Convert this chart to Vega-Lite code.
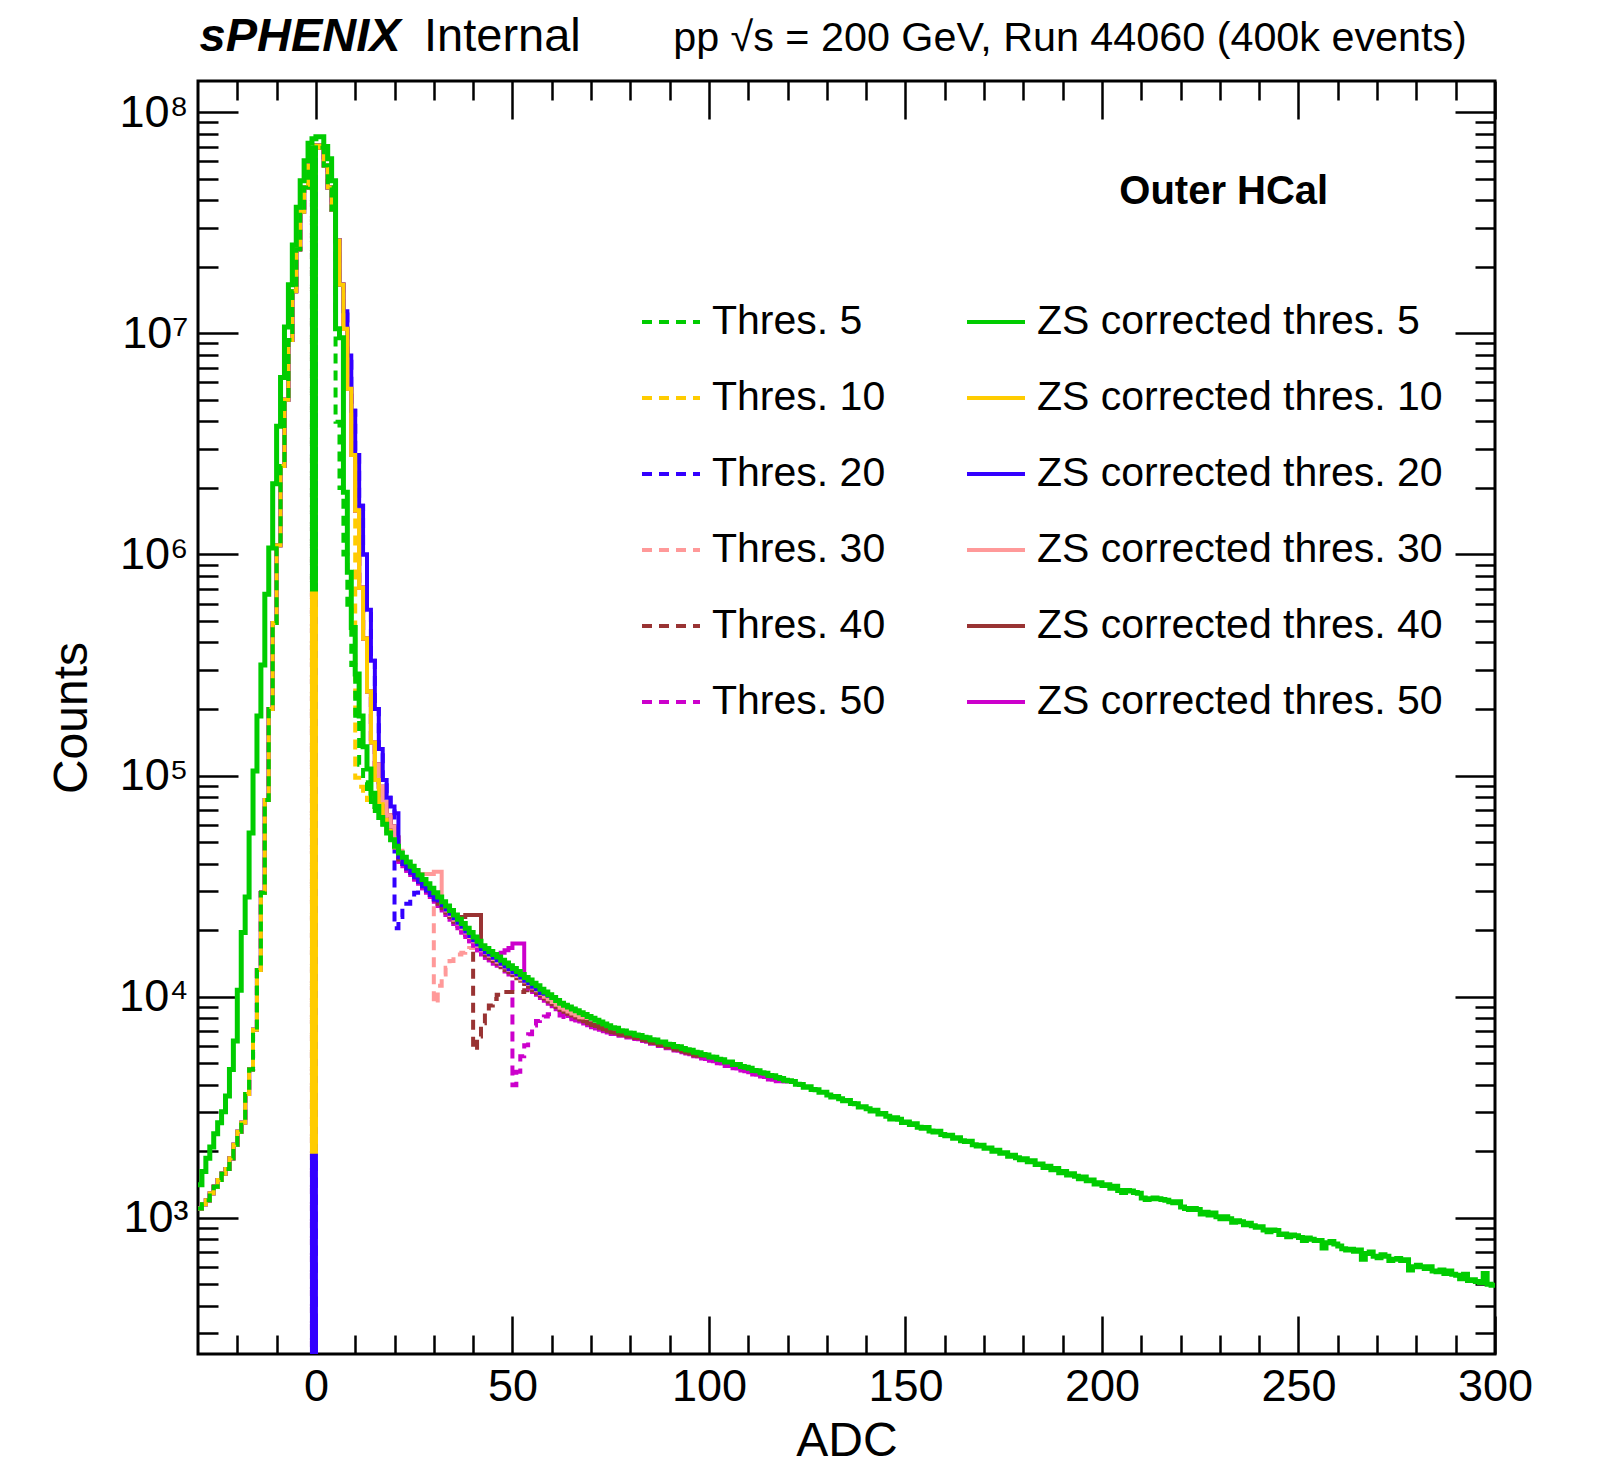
{
"$schema": "https://vega.github.io/schema/vega-lite/v6.json",
"width": 1297, "height": 1273,
"autosize": {"type": "none"},
"padding": {"left": 198, "top": 81, "right": 102, "bottom": 115},
"background": "white",
"config": {"view": {"stroke": "black", "strokeWidth": 3}, "font": "Liberation Sans"},
"resolve": {"axis": {"x": "independent", "y": "independent"}},
"datasets": {
"bar": [{"x":-0.5,"hi":7.08e7,"lo":6.8e5,"key":"d5"},{"x":-0.5,"hi":6.8e5,"lo":1950,"key":"d10"},{"x":-0.5,"hi":1950,"lo":1,"key":"d20"}],
"hist": [
{"x":-30,"s5":1410,"d5":1100,"d10":1100,"d20":1100,"d30":1100,"d40":1100,"d50":1100,"s10":1100,"s20":1100,"s30":1100,"s40":1100,"s50":1100},
{"x":-29,"s5":1620,"d5":1150,"d10":1150,"d20":1150,"d30":1150,"d40":1150,"d50":1150,"s10":1150,"s20":1150,"s30":1150,"s40":1150,"s50":1150},
{"x":-28,"s5":1860,"d5":1200,"d10":1200,"d20":1200,"d30":1200,"d40":1200,"d50":1200,"s10":1200,"s20":1200,"s30":1200,"s40":1200,"s50":1200},
{"x":-27,"s5":2090,"d5":1290,"d10":1290,"d20":1290,"d30":1290,"d40":1290,"d50":1290,"s10":1290,"s20":1290,"s30":1290,"s40":1290,"s50":1290},
{"x":-26,"s5":2400,"d5":1380,"d10":1380,"d20":1380,"d30":1380,"d40":1380,"d50":1380,"s10":1380,"s20":1380,"s30":1380,"s40":1380,"s50":1380},
{"x":-25,"s5":2690,"d5":1480,"d10":1480,"d20":1480,"d30":1480,"d40":1480,"d50":1480,"s10":1480,"s20":1480,"s30":1480,"s40":1480,"s50":1480},
{"x":-24,"s5":3020,"d5":1580,"d10":1580,"d20":1580,"d30":1580,"d40":1580,"d50":1580,"s10":1580,"s20":1580,"s30":1580,"s40":1580,"s50":1580},
{"x":-23,"s5":3550,"d5":1660,"d10":1660,"d20":1660,"d30":1660,"d40":1660,"d50":1660,"s10":1660,"s20":1660,"s30":1660,"s40":1660,"s50":1660},
{"x":-22,"s5":4680,"d5":1860,"d10":1860,"d20":1860,"d30":1860,"d40":1860,"d50":1860,"s10":1860,"s20":1860,"s30":1860,"s40":1860,"s50":1860},
{"x":-21,"s5":6310,"d5":2140,"d10":2140,"d20":2140,"d30":2140,"d40":2140,"d50":2140,"s10":2140,"s20":2140,"s30":2140,"s40":2140,"s50":2140},
{"x":-20,"s5":10700,"d5":2450,"d10":2450,"d20":2450,"d30":2450,"d40":2450,"d50":2450,"s10":2450,"s20":2450,"s30":2450,"s40":2450,"s50":2450},
{"x":-19,"s5":19500,"d5":2690,"d10":2690,"d20":2690,"d30":2690,"d40":2690,"d50":2690,"s10":2690,"s20":2690,"s30":2690,"s40":2690,"s50":2690},
{"x":-18,"s5":28200,"d5":3630,"d10":3630,"d20":3630,"d30":3630,"d40":3630,"d50":3630,"s10":3630,"s20":3630,"s30":3630,"s40":3630,"s50":3630},
{"x":-17,"s5":55000,"d5":4680,"d10":4680,"d20":4680,"d30":4680,"d40":4680,"d50":4680,"s10":4680,"s20":4680,"s30":4680,"s40":4680,"s50":4680},
{"x":-16,"s5":105000,"d5":7080,"d10":7080,"d20":7080,"d30":7080,"d40":7080,"d50":7080,"s10":7080,"s20":7080,"s30":7080,"s40":7080,"s50":7080},
{"x":-15,"s5":186000,"d5":13200,"d10":13200,"d20":13200,"d30":13200,"d40":13200,"d50":13200,"s10":13200,"s20":13200,"s30":13200,"s40":13200,"s50":13200},
{"x":-14,"s5":316000,"d5":29500,"d10":29500,"d20":29500,"d30":29500,"d40":29500,"d50":29500,"s10":29500,"s20":29500,"s30":29500,"s40":29500,"s50":29500},
{"x":-13,"s5":661000,"d5":77600,"d10":77600,"d20":77600,"d30":77600,"d40":77600,"d50":77600,"s10":77600,"s20":77600,"s30":77600,"s40":77600,"s50":77600},
{"x":-12,"s5":1.07e6,"d5":2.0e5,"d10":2.0e5,"d20":2.0e5,"d30":2.0e5,"d40":2.0e5,"d50":2.0e5,"s10":2.0e5,"s20":2.0e5,"s30":2.0e5,"s40":2.0e5,"s50":2.0e5},
{"x":-11,"s5":2.09e6,"d5":4.9e5,"d10":4.9e5,"d20":4.9e5,"d30":4.9e5,"d40":4.9e5,"d50":4.9e5,"s10":4.9e5,"s20":4.9e5,"s30":4.9e5,"s40":4.9e5,"s50":4.9e5},
{"x":-10,"s5":3.8e6,"d5":1.1e6,"d10":1.1e6,"d20":1.1e6,"d30":1.1e6,"d40":1.1e6,"d50":1.1e6,"s10":1.1e6,"s20":1.1e6,"s30":1.1e6,"s40":1.1e6,"s50":1.1e6},
{"x":-9,"s5":6.31e6,"d5":2.51e6,"d10":2.51e6,"d20":2.51e6,"d30":2.51e6,"d40":2.51e6,"d50":2.51e6,"s10":2.51e6,"s20":2.51e6,"s30":2.51e6,"s40":2.51e6,"s50":2.51e6},
{"x":-8,"s5":1.07e7,"d5":5.01e6,"d10":5.01e6,"d20":5.01e6,"d30":5.01e6,"d40":5.01e6,"d50":5.01e6,"s10":5.01e6,"s20":5.01e6,"s30":5.01e6,"s40":5.01e6,"s50":5.01e6},
{"x":-7,"s5":1.66e7,"d5":9.33e6,"d10":9.33e6,"d20":9.33e6,"d30":9.33e6,"d40":9.33e6,"d50":9.33e6,"s10":9.33e6,"s20":9.33e6,"s30":9.33e6,"s40":9.33e6,"s50":9.33e6},
{"x":-6,"s5":2.51e7,"d5":1.55e7,"d10":1.55e7,"d20":1.55e7,"d30":1.55e7,"d40":1.55e7,"d50":1.55e7,"s10":1.55e7,"s20":1.55e7,"s30":1.55e7,"s40":1.55e7,"s50":1.55e7},
{"x":-5,"s5":3.72e7,"d5":2.4e7,"d10":2.4e7,"d20":2.4e7,"d30":2.4e7,"d40":2.4e7,"d50":2.4e7,"s10":2.4e7,"s20":2.4e7,"s30":2.4e7,"s40":2.4e7,"s50":2.4e7},
{"x":-4,"s5":4.9e7,"d5":3.55e7,"d10":3.55e7,"d20":3.55e7,"d30":3.55e7,"d40":3.55e7,"d50":3.55e7,"s10":3.55e7,"s20":3.55e7,"s30":3.55e7,"s40":3.55e7,"s50":3.55e7},
{"x":-3,"s5":6.03e7,"d5":4.57e7,"d10":4.57e7,"d20":4.57e7,"d30":4.57e7,"d40":4.57e7,"d50":4.57e7,"s10":4.57e7,"s20":4.57e7,"s30":4.57e7,"s40":4.57e7,"s50":4.57e7},
{"x":-2,"s5":7.24e7,"d5":5.75e7,"d10":5.75e7,"d20":5.75e7,"d30":5.75e7,"d40":5.75e7,"d50":5.75e7,"s10":5.75e7,"s20":5.75e7,"s30":5.75e7,"s40":5.75e7,"s50":5.75e7},
{"x":-1,"s5":7.59e7,"d5":6.8e5,"d10":1950,"d20":1,"d30":1,"d40":1,"d50":1,"s10":6.6e7,"s20":6.6e7,"s30":6.6e7,"s40":6.6e7,"s50":6.6e7},
{"x":0,"s5":7.76e7,"d5":7.08e7,"d10":7.08e7,"d20":7.08e7,"d30":7.08e7,"d40":7.08e7,"d50":7.08e7,"s10":7.08e7,"s20":7.08e7,"s30":7.08e7,"s40":7.08e7,"s50":7.08e7},
{"x":1,"s5":7.76e7,"d5":6.92e7,"d10":6.92e7,"d20":6.92e7,"d30":6.92e7,"d40":6.92e7,"d50":6.92e7,"s10":6.92e7,"s20":6.92e7,"s30":6.92e7,"s40":6.92e7,"s50":6.92e7},
{"x":2,"s5":7.0e7,"d5":5.75e7,"d10":5.75e7,"d20":5.75e7,"d30":5.75e7,"d40":5.75e7,"d50":5.75e7,"s10":5.75e7,"s20":5.75e7,"s30":5.75e7,"s40":5.75e7,"s50":5.75e7},
{"x":3,"s5":6.17e7,"d5":4.57e7,"d10":4.57e7,"d20":4.57e7,"d30":4.57e7,"d40":4.57e7,"d50":4.57e7,"s10":4.57e7,"s20":4.57e7,"s30":4.57e7,"s40":4.57e7,"s50":4.57e7},
{"x":4,"s5":4.9e7,"d5":3.63e7,"d10":3.63e7,"d20":3.63e7,"d30":3.63e7,"d40":3.63e7,"d50":3.63e7,"s10":3.63e7,"s20":3.63e7,"s30":3.63e7,"s40":3.63e7,"s50":3.63e7},
{"x":5,"s5":1.05e7,"d5":3.98e6,"d10":2.63e7,"d20":2.63e7,"d30":2.63e7,"d40":2.63e7,"d50":2.63e7,"s10":2.63e7,"s20":2.63e7,"s30":2.63e7,"s40":2.63e7,"s50":2.63e7},
{"x":6,"s5":9.55e6,"d5":2.0e6,"d10":1.66e7,"d20":1.66e7,"d30":1.66e7,"d40":1.66e7,"d50":1.66e7,"s10":1.66e7,"s20":1.66e7,"s30":1.66e7,"s40":1.66e7,"s50":1.66e7},
{"x":7,"s5":1.91e6,"d5":1.0e6,"d10":1.05e7,"d20":1.26e7,"d30":1.05e7,"d40":1.05e7,"d50":1.05e7,"s10":1.05e7,"s20":1.26e7,"s30":1.05e7,"s40":1.05e7,"s50":1.05e7},
{"x":8,"s5":8.32e5,"d5":5.62e5,"d10":5.62e6,"d20":7.94e6,"d30":5.62e6,"d40":5.62e6,"d50":5.62e6,"s10":5.62e6,"s20":7.94e6,"s30":5.62e6,"s40":5.62e6,"s50":5.62e6},
{"x":9,"s5":4.68e5,"d5":3.16e5,"d10":2.82e6,"d20":4.47e6,"d30":2.82e6,"d40":2.82e6,"d50":2.82e6,"s10":2.82e6,"s20":4.47e6,"s30":2.82e6,"s40":2.82e6,"s50":2.82e6},
{"x":10,"s5":2.88e5,"d5":1.78e5,"d10":9.77e4,"d20":2.82e6,"d30":1.58e6,"d40":1.58e6,"d50":1.58e6,"s10":1.58e6,"s20":2.82e6,"s30":1.58e6,"s40":1.58e6,"s50":1.58e6},
{"x":11,"s5":1.86e5,"d5":1.12e5,"d10":8.91e4,"d20":1.66e6,"d30":7.08e5,"d40":7.08e5,"d50":7.08e5,"s10":7.08e5,"s20":1.66e6,"s30":7.08e5,"s40":7.08e5,"s50":7.08e5},
{"x":12,"s5":1.35e5,"d5":9.33e4,"d10":8.32e4,"d20":1.0e6,"d30":4.17e5,"d40":4.17e5,"d50":4.17e5,"s10":4.17e5,"s20":1.0e6,"s30":4.17e5,"s40":4.17e5,"s50":4.17e5},
{"x":13,"s5":1.07e5,"d5":8.32e4,"d10":7.76e4,"d20":5.62e5,"d30":2.4e5,"d40":2.4e5,"d50":2.4e5,"s10":2.4e5,"s20":5.62e5,"s30":2.4e5,"s40":2.4e5,"s50":2.4e5},
{"x":14,"s5":8.32e4,"d5":7.59e4,"d10":7.24e4,"d20":3.31e5,"d30":1.41e5,"d40":1.41e5,"d50":1.41e5,"s10":1.41e5,"s20":3.31e5,"s30":1.41e5,"s40":1.41e5,"s50":1.41e5},
{"x":15,"s5":7.24e4,"d5":6.92e4,"d10":6.92e4,"d20":2.0e5,"d30":1.12e5,"d40":1.12e5,"d50":1.12e5,"s10":9.55e4,"s20":2.0e5,"s30":1.12e5,"s40":1.12e5,"s50":1.12e5},
{"x":16,"s5":6.46e4,"d5":6.46e4,"d10":6.61e4,"d20":1.32e5,"d30":8.91e4,"d40":8.91e4,"d50":8.91e4,"s10":7.41e4,"s20":1.32e5,"s30":8.91e4,"s40":8.91e4,"s50":8.91e4},
{"x":17,"s5":6.03e4,"d5":6.03e4,"d10":6.31e4,"d20":9.55e4,"d30":7.59e4,"d40":7.59e4,"d50":7.59e4,"s10":6.31e4,"s20":9.55e4,"s30":7.59e4,"s40":7.59e4,"s50":7.59e4},
{"x":18,"s5":5.5e4,"d5":5.5e4,"d10":5.75e4,"d20":7.94e4,"d30":6.61e4,"d40":6.61e4,"d50":6.61e4,"s10":5.62e4,"s20":7.94e4,"s30":6.61e4,"s40":6.61e4,"s50":6.61e4},
{"x":19,"s5":5.13e4,"d10":5.25e4,"d20":7.24e4,"d30":5.89e4,"d40":5.89e4,"d50":5.89e4,"s10":5.13e4,"s20":7.24e4,"s30":5.89e4,"s40":5.89e4,"s50":5.89e4},
{"x":20,"s5":4.79e4,"d10":4.79e4,"d20":2.04e4,"d30":5.25e4,"d40":5.25e4,"d50":5.25e4,"s10":4.73e4,"s20":6.76e4,"s30":5.25e4,"s40":5.25e4,"s50":5.25e4},
{"x":21,"s5":44700,"d10":44700,"d20":22900,"d30":45700,"d40":41700,"d50":40800,"s10":44700,"s20":42700,"s30":45700,"s40":41700,"s50":40800},
{"x":22,"s5":42700,"d20":25100,"d30":41700,"d40":39800,"d50":38900,"s20":39800,"s30":41700,"s40":39800,"s50":38900},
{"x":23,"s5":40700,"d20":26300,"d30":39800,"d40":38000,"d50":37100,"s20":38000,"s30":39800,"s40":38000,"s50":37100},
{"x":24,"s5":38900,"d20":28200,"d30":37600,"d40":36300,"d50":35500,"s20":36300,"s30":37600,"s40":36300,"s50":35500},
{"x":25,"s5":37200,"d20":29500,"d30":36300,"d40":34700,"d50":33900,"s20":34700,"s30":36300,"s40":34700,"s50":33900},
{"x":26,"s5":35500,"d20":30900,"d30":35100,"d40":33100,"d50":32400,"s20":33100,"s30":35100,"s40":33100,"s50":32400},
{"x":27,"s5":33900,"d20":31600,"d30":32400,"d40":31600,"d50":30900,"s20":31600,"s30":35900,"s40":31600,"s50":30900},
{"x":28,"s5":32400,"d30":30900,"d40":30200,"d50":29500,"s20":30200,"s30":35900,"s40":30200,"s50":29500},
{"x":29,"s5":30900,"d30":29500,"d40":28800,"d50":28200,"s20":28800,"s30":35900,"s40":28800,"s50":28200},
{"x":30,"s5":29500,"d30":9330,"d40":27500,"d50":26900,"s20":27500,"s30":36700,"s40":27500,"s50":26900},
{"x":31,"s5":28200,"d30":11200,"d40":26300,"d50":25700,"s20":27200,"s30":36700,"s40":26300,"s50":25700},
{"x":32,"s5":26900,"d30":12600,"d40":25100,"d50":24500,"s20":26000,"s30":26300,"s40":25100,"s50":24500},
{"x":33,"s5":25700,"d30":13500,"d40":24000,"d50":23400,"s20":24800,"s30":24500,"s40":24000,"s50":23400},
{"x":34,"s5":24500,"d30":14500,"d40":22900,"d50":22300,"s20":23700,"s30":23400,"s40":22900,"s50":22300},
{"x":35,"s5":23400,"d30":15100,"d40":21800,"d50":21300,"s20":22600,"s30":22300,"s40":21800,"s50":21300},
{"x":36,"s5":22400,"d30":15500,"d40":20900,"d50":20400,"s20":21600,"s30":21400,"s40":22400,"s50":20400},
{"x":37,"s5":21400,"d30":15800,"d40":20000,"d50":19500,"s20":20700,"s30":20400,"s40":22900,"s50":19500},
{"x":38,"s5":20400,"d30":16200,"d40":19000,"d50":18600,"s20":19700,"s30":19500,"s40":23400,"s50":18600},
{"x":39,"s5":19500,"d30":16600,"d40":18200,"d50":17800,"s20":18800,"s30":18600,"s40":23400,"s50":17800},
{"x":40,"s5":18600,"d30":16800,"d40":5750,"d50":17000,"s20":18000,"s30":17800,"s40":23400,"s50":17000},
{"x":41,"s5":17800,"d30":17000,"d40":6610,"d50":16200,"s20":17200,"s30":17000,"s40":23400,"s50":16200},
{"x":42,"s5":17000,"d40":7590,"d50":15500,"s20":16400,"s30":16200,"s40":16400,"s50":15500},
{"x":43,"s5":16500,"d40":8510,"d50":15000,"s20":15900,"s30":15800,"s40":15400,"s50":15000},
{"x":44,"s5":16000,"d40":9120,"d50":14600,"s20":15500,"s30":15300,"s40":14900,"s50":14600},
{"x":45,"s5":15500,"d40":9770,"d50":14100,"s20":15000,"s30":14800,"s40":14500,"s50":14100},
{"x":46,"s5":15100,"d40":10200,"d50":13800,"s20":14600,"s30":14400,"s40":14100,"s50":15500},
{"x":47,"s5":14600,"d40":10500,"d50":13300,"s20":14100,"s30":13900,"s40":13600,"s50":15800},
{"x":48,"s5":14200,"d40":10500,"d50":13000,"s20":13700,"s30":13600,"s40":13200,"s50":16200},
{"x":49,"s5":13800,"d40":10500,"d50":12600,"s20":13300,"s30":13200,"s40":12900,"s50":16600},
{"x":50,"s5":13400,"d40":10500,"d50":3980,"s20":12900,"s30":12800,"s40":12500,"s50":17400},
{"x":51,"s5":13000,"d40":10500,"d50":4570,"s20":12600,"s30":12400,"s40":12100,"s50":17400},
{"x":52,"s5":12600,"d40":10500,"d50":5370,"s20":12200,"s30":12000,"s40":11800,"s50":17400},
{"x":53,"s5":12200,"d40":10700,"d50":6030,"s20":11800,"s30":11700,"s40":11400,"s50":11500},
{"x":54,"s5":11900,"d40":10700,"d50":6760,"s20":11500,"s30":11400,"s40":11100,"s50":10900},
{"x":55,"s5":11500,"d40":10700,"d50":7410,"s20":11100,"s30":11000,"s40":10700,"s50":10500},
{"x":56,"s5":11200,"d50":7760,"s20":10800,"s30":10700,"s40":10400,"s50":10200},
{"x":57,"s5":10800,"d50":7940,"s20":10400,"s30":10300,"s40":10100,"s50":9850},
{"x":58,"s5":10500,"d50":8130,"s20":10300,"s30":10000,"s40":9800,"s50":9580},
{"x":59,"s5":10200,"d50":8320,"s20":10100,"s30":9740,"s40":9520,"s50":9300},
{"x":60,"s5":9910,"d50":8320,"s20":9910,"s30":9460,"s40":9250,"s50":9040},
{"x":61,"s5":9620,"d50":8320,"s30":9190,"s40":8980,"s50":8770},
{"x":62,"s5":9330,"d50":8220,"s30":8910,"s40":8700,"s50":8510},
{"x":63,"s5":9150,"d50":8100,"s30":8740,"s40":8540,"s50":8340},
{"x":64,"s5":8970,"d50":8000,"s30":8570,"s40":8370,"s50":8180},
{"x":65,"s5":8800,"d50":7900,"s30":8400,"s40":8210,"s50":8030},
{"x":66,"s5":8630,"d50":7800,"s30":8240,"s40":8050,"s50":7870},
{"x":67,"s5":8460,"d50":7720,"s30":8080,"s40":7890,"s50":7720},
{"x":68,"s5":8300,"s30":8050,"s40":7740,"s50":7570},
{"x":69,"s5":8140,"s30":8000,"s40":7590,"s50":7420},
{"x":70,"s5":7980,"s30":7980,"s40":7450,"s50":7280},
{"x":71,"s5":7830,"s40":7360,"s50":7180},
{"x":72,"s5":7680,"s40":7240,"s50":7080},
{"x":73,"s5":7530,"s40":7120,"s50":6980},
{"x":74,"s5":7380,"s40":7010,"s50":6880},
{"x":75,"s5":7240,"s40":6900,"s50":6780},
{"x":76,"s5":7190,"s40":6870,"s50":6770},
{"x":77,"s5":7020,"s40":6740,"s50":6650},
{"x":78,"s5":6990,"s40":6730,"s50":6650},
{"x":79,"s5":6850,"s40":6620,"s50":6540},
{"x":80,"s5":6840,"s40":6620,"s50":6550},
{"x":81,"s5":6700,"s40":6500,"s50":6430},
{"x":82,"s5":6680,"s40":6480,"s50":6410},
{"x":83,"s5":6560,"s40":6360,"s50":6300},
{"x":84,"s5":6520,"s40":6320,"s50":6260},
{"x":85,"s5":6380,"s40":6190,"s50":6120},
{"x":86,"s5":6370,"s40":6180,"s50":6120},
{"x":87,"s5":6240,"s40":6050,"s50":5990},
{"x":88,"s5":6230,"s40":6040,"s50":5980},
{"x":89,"s5":6090,"s40":5910,"s50":5850},
{"x":90,"s5":6080,"s40":5900,"s50":5840},
{"x":91,"s5":5950,"s40":5770,"s50":5710},
{"x":92,"s5":5930,"s40":5750,"s50":5690},
{"x":93,"s5":5830,"s40":5660,"s50":5600},
{"x":94,"s5":5760,"s40":5590,"s50":5530},
{"x":95,"s5":5720,"s40":5550,"s50":5490},
{"x":96,"s5":5600,"s40":5430,"s50":5380},
{"x":97,"s5":5580,"s40":5410,"s50":5360},
{"x":98,"s5":5470,"s40":5420,"s50":5250},
{"x":99,"s5":5450,"s40":5420,"s50":5230},
{"x":100,"s5":5340,"s40":5340,"s50":5130},
{"x":101,"s5":5320,"s50":5110},
{"x":102,"s5":5210,"s50":5000},
{"x":103,"s5":5190,"s50":4980},
{"x":104,"s5":5060,"s50":4860},
{"x":105,"s5":5070,"s50":4870},
{"x":106,"s5":4940,"s50":4740},
{"x":107,"s5":4930,"s50":4730},
{"x":108,"s5":4830,"s50":4640},
{"x":109,"s5":4790,"s50":4600},
{"x":110,"s5":4740,"s50":4550},
{"x":111,"s5":4640,"s50":4450},
{"x":112,"s5":4620,"s50":4440},
{"x":113,"s5":4530,"s50":4350},
{"x":114,"s5":4510,"s50":4330},
{"x":115,"s5":4400,"s50":4220},
{"x":116,"s5":4390,"s50":4210},
{"x":117,"s5":4310,"s50":4140},
{"x":118,"s5":4270,"s50":4180},
{"x":119,"s5":4190,"s50":4130},
{"x":120,"s5":4170,"s50":4170},
{"x":121,"s5":4130},{"x":122,"s5":4020},{"x":123,"s5":4010},{"x":124,"s5":3890},{"x":125,"s5":3910},
{"x":126,"s5":3800},{"x":127,"s5":3790},{"x":128,"s5":3700},{"x":129,"s5":3700},{"x":130,"s5":3590},
{"x":131,"s5":3520},{"x":132,"s5":3540},{"x":133,"s5":3450},{"x":134,"s5":3380},{"x":135,"s5":3390},
{"x":136,"s5":3290},{"x":137,"s5":3280},{"x":138,"s5":3170},{"x":139,"s5":3180},{"x":140,"s5":3110},
{"x":141,"s5":3040},{"x":142,"s5":3060},{"x":143,"s5":2950},{"x":144,"s5":2960},{"x":145,"s5":2880},
{"x":146,"s5":2800},{"x":147,"s5":2830},{"x":148,"s5":2790},{"x":149,"s5":2700},{"x":150,"s5":2710},
{"x":151,"s5":2640},{"x":152,"s5":2660},{"x":153,"s5":2570},{"x":154,"s5":2540},{"x":155,"s5":2560},
{"x":156,"s5":2470},{"x":157,"s5":2440},{"x":158,"s5":2460},{"x":159,"s5":2380},{"x":160,"s5":2350},
{"x":161,"s5":2360},{"x":162,"s5":2290},{"x":163,"s5":2300},{"x":164,"s5":2230},{"x":165,"s5":2210},
{"x":166,"s5":2220},{"x":167,"s5":2140},{"x":168,"s5":2110},{"x":169,"s5":2130},{"x":170,"s5":2060},
{"x":171,"s5":2070},{"x":172,"s5":2000},{"x":173,"s5":2020},{"x":174,"s5":1960},{"x":175,"s5":1970},
{"x":176,"s5":1900},{"x":177,"s5":1920},{"x":178,"s5":1870},{"x":179,"s5":1830},{"x":180,"s5":1850},
{"x":181,"s5":1790},{"x":182,"s5":1810},{"x":183,"s5":1740},{"x":184,"s5":1750},{"x":185,"s5":1690},
{"x":186,"s5":1710},{"x":187,"s5":1650},{"x":188,"s5":1670},{"x":189,"s5":1600},{"x":190,"s5":1620},
{"x":191,"s5":1560},{"x":192,"s5":1580},{"x":193,"s5":1540},{"x":194,"s5":1500},{"x":195,"s5":1530},
{"x":196,"s5":1470},{"x":197,"s5":1480},{"x":198,"s5":1420},{"x":199,"s5":1440},{"x":200,"s5":1400},
{"x":201,"s5":1410},{"x":202,"s5":1360},{"x":203,"s5":1390},{"x":204,"s5":1330},{"x":205,"s5":1300},
{"x":206,"s5":1330},{"x":207,"s5":1320},{"x":208,"s5":1300},{"x":209,"s5":1290},{"x":210,"s5":1230},
{"x":211,"s5":1210},{"x":212,"s5":1220},{"x":213,"s5":1230},{"x":214,"s5":1220},{"x":215,"s5":1210},
{"x":216,"s5":1200},{"x":217,"s5":1180},{"x":218,"s5":1170},{"x":219,"s5":1180},{"x":220,"s5":1120},
{"x":221,"s5":1100},{"x":222,"s5":1090},{"x":223,"s5":1100},{"x":224,"s5":1090},{"x":225,"s5":1040},
{"x":226,"s5":1060},{"x":227,"s5":1030},{"x":228,"s5":1050},{"x":229,"s5":1010},{"x":230,"s5":990},
{"x":231,"s5":1010},{"x":232,"s5":990},{"x":233,"s5":955},{"x":234,"s5":970},{"x":235,"s5":960},
{"x":236,"s5":930},{"x":237,"s5":945},{"x":238,"s5":920},{"x":239,"s5":905},{"x":240,"s5":910},
{"x":241,"s5":880},{"x":242,"s5":865},{"x":243,"s5":880},{"x":244,"s5":875},{"x":245,"s5":840},
{"x":246,"s5":845},{"x":247,"s5":820},{"x":248,"s5":835},{"x":249,"s5":830},{"x":250,"s5":815},
{"x":251,"s5":790},{"x":252,"s5":810},{"x":253,"s5":800},{"x":254,"s5":790},{"x":255,"s5":790},
{"x":256,"s5":730},{"x":257,"s5":770},{"x":258,"s5":780},{"x":259,"s5":760},{"x":260,"s5":745},
{"x":261,"s5":725},{"x":262,"s5":715},{"x":263,"s5":720},{"x":264,"s5":705},{"x":265,"s5":715},
{"x":266,"s5":650},{"x":267,"s5":690},{"x":268,"s5":700},{"x":269,"s5":670},{"x":270,"s5":660},
{"x":271,"s5":680},{"x":272,"s5":670},{"x":273,"s5":640},{"x":274,"s5":650},{"x":275,"s5":655},
{"x":276,"s5":640},{"x":277,"s5":645},{"x":278,"s5":580},{"x":279,"s5":600},{"x":280,"s5":610},
{"x":281,"s5":600},{"x":282,"s5":590},{"x":283,"s5":600},{"x":284,"s5":575},{"x":285,"s5":570},
{"x":286,"s5":580},{"x":287,"s5":560},{"x":288,"s5":575},{"x":289,"s5":555},{"x":290,"s5":550},
{"x":291,"s5":530},{"x":292,"s5":555},{"x":293,"s5":520},{"x":294,"s5":525},{"x":295,"s5":515},
{"x":296,"s5":510},{"x":297,"s5":560},{"x":298,"s5":500},{"x":299,"s5":495},{"x":300,"s5":495}
]},
"layer": [
{
"data": {"name": "hist"},
"transform": [
 {"fold": ["d50","d40","d30","d20","d10","s50","s40","s30","s20","s10","d5"], "as": ["key","v"]},
 {"filter": "isValid(datum.v)"}
],
"encoding": {
 "x": {"field": "x", "type": "quantitative", "scale": {"domain": [-30,300], "nice": false, "zero": false},
  "axis": {"orient": "bottom", "values": [0,50,100,150,200,250,300], "ticks": false, "domain": false, "grid": false, "labelFont": "Liberation Sans", "labelFontSize": 45, "labelColor": "black", "labelPadding": 10, "labelFlush": false, "labelOverlap": false, "title": "ADC", "titleFont": "Liberation Sans", "titleFontSize": 48, "titleFontWeight": "normal", "titleColor": "black", "titlePadding": 8}},
 "y": {"field": "v", "type": "quantitative", "scale": {"type": "log", "domain": [242,138500000], "nice": false},
  "axis": {"orient": "left", "values": [1000,10000,100000,1000000,10000000,100000000], "ticks": false, "domain": false, "grid": false, "labelFont": "Liberation Sans", "labelFontSize": 45, "labelColor": "black", "labelPadding": 10, "labelOverlap": false, "labelFlush": false, "labelExpr": "'10' + ['⁰','¹','²','³','⁴','⁵','⁶','⁷','⁸','⁹'][round(log(datum.value)/LN10)]", "title": "Counts", "titleFont": "Liberation Sans", "titleFontSize": 48, "titleFontWeight": "normal", "titleColor": "black", "titlePadding": 22}},
 "color": {"field": "key", "type": "nominal",
  "scale": {"domain": ["d5","d10","d20","d30","d40","d50","s5","s10","s20","s30","s40","s50"], "range": ["#00cc00","#ffcc00","#3300ff","#ff9999","#993333","#cc00cc","#00cc00","#ffcc00","#3300ff","#ff9999","#993333","#cc00cc"]},
  "legend": {"orient": "none", "legendX": 442, "legendY": 210, "columns": 2, "title": null, "padding": 0, "symbolType": "stroke", "symbolSize": 3364, "symbolStrokeWidth": 4, "labelFont": "Liberation Sans", "labelFontSize": 41, "labelColor": "black", "labelOffset": 10, "labelLimit": 1000, "rowPadding": 25, "columnPadding": 73, "labelExpr": "substring(datum.label,0,1)=='d' ? 'Thres. ' + substring(datum.label,1) : 'ZS corrected thres. ' + substring(datum.label,1)"}},
 "strokeDash": {"field": "key", "type": "nominal",
  "scale": {"domain": ["d5","d10","d20","d30","d40","d50","s5","s10","s20","s30","s40","s50"], "range": [[10,7],[10,7],[10,7],[10,7],[10,7],[10,7],[1,0],[1,0],[1,0],[1,0],[1,0],[1,0]]},
  "legend": {"orient": "none", "legendX": 442, "legendY": 210, "columns": 2, "title": null, "padding": 0, "symbolType": "stroke", "symbolSize": 3364, "symbolStrokeWidth": 4, "labelFont": "Liberation Sans", "labelFontSize": 41, "labelColor": "black", "labelOffset": 10, "labelLimit": 1000, "rowPadding": 25, "columnPadding": 73, "labelExpr": "substring(datum.label,0,1)=='d' ? 'Thres. ' + substring(datum.label,1) : 'ZS corrected thres. ' + substring(datum.label,1)"}}
},
"layer": [
 {"transform": [{"filter": "datum.key=='d50'"}], "mark": {"type": "line", "interpolate": "step-after", "strokeWidth": 4, "clip": true, "strokeJoin": "miter", "strokeCap": "butt"}},
 {"transform": [{"filter": "datum.key=='d40'"}], "mark": {"type": "line", "interpolate": "step-after", "strokeWidth": 4, "clip": true, "strokeJoin": "miter", "strokeCap": "butt"}},
 {"transform": [{"filter": "datum.key=='d30'"}], "mark": {"type": "line", "interpolate": "step-after", "strokeWidth": 4, "clip": true, "strokeJoin": "miter", "strokeCap": "butt"}},
 {"transform": [{"filter": "datum.key=='d20'"}], "mark": {"type": "line", "interpolate": "step-after", "strokeWidth": 4, "clip": true, "strokeJoin": "miter", "strokeCap": "butt"}},
 {"transform": [{"filter": "datum.key=='d10'"}], "mark": {"type": "line", "interpolate": "step-after", "strokeWidth": 4, "clip": true, "strokeJoin": "miter", "strokeCap": "butt"}},
 {"transform": [{"filter": "datum.key=='s50'"}], "mark": {"type": "line", "interpolate": "step-after", "strokeWidth": 4, "clip": true, "strokeJoin": "miter", "strokeCap": "butt"}},
 {"transform": [{"filter": "datum.key=='s40'"}], "mark": {"type": "line", "interpolate": "step-after", "strokeWidth": 4, "clip": true, "strokeJoin": "miter", "strokeCap": "butt"}},
 {"transform": [{"filter": "datum.key=='s30'"}], "mark": {"type": "line", "interpolate": "step-after", "strokeWidth": 4, "clip": true, "strokeJoin": "miter", "strokeCap": "butt"}},
 {"transform": [{"filter": "datum.key=='s20'"}], "mark": {"type": "line", "interpolate": "step-after", "strokeWidth": 4, "clip": true, "strokeJoin": "miter", "strokeCap": "butt"}},
 {"transform": [{"filter": "datum.key=='s10'"}], "mark": {"type": "line", "interpolate": "step-after", "strokeWidth": 4, "clip": true, "strokeJoin": "miter", "strokeCap": "butt"}},
 {"transform": [{"filter": "datum.key=='d5'"}], "mark": {"type": "line", "interpolate": "step-after", "strokeWidth": 4, "clip": true, "strokeJoin": "miter", "strokeCap": "butt"}}
]
},
{
"data": {"name": "bar"},
"mark": {"type": "rule", "strokeWidth": 8, "clip": true, "strokeCap": "butt"},
"encoding": {
 "x": {"field": "x", "type": "quantitative", "scale": {"domain": [-30,300], "nice": false, "zero": false},
  "axis": {"orient": "bottom", "values": [0,50,100,150,200,250,300], "labels": false, "domain": false, "grid": false, "ticks": true, "tickSize": -38, "tickWidth": 2.5, "tickColor": "black", "title": null}},
 "y": {"field": "hi", "type": "quantitative", "scale": {"type": "log", "domain": [242,138500000], "nice": false},
  "axis": {"orient": "left", "values": [1000,10000,100000,1000000,10000000,100000000], "labels": false, "domain": false, "grid": false, "ticks": true, "tickSize": -40, "tickWidth": 2.5, "tickColor": "black", "title": null}},
 "y2": {"field": "lo"},
 "color": {"field": "key", "type": "nominal", "scale": {"domain": ["d5","d10","d20","d30","d40","d50","s5","s10","s20","s30","s40","s50"], "range": ["#00cc00","#ffcc00","#3300ff","#ff9999","#993333","#cc00cc","#00cc00","#ffcc00","#3300ff","#ff9999","#993333","#cc00cc"]}, "legend": null}
}
},
{
"data": {"name": "hist"},
"transform": [{"filter": "isValid(datum.s5)"}],
"mark": {"type": "line", "interpolate": "step-after", "strokeWidth": 5, "clip": true, "color": "#00cc00", "strokeJoin": "miter", "strokeCap": "butt"},
"encoding": {
 "x": {"field": "x", "type": "quantitative", "scale": {"domain": [-30,300], "nice": false, "zero": false},
  "axis": {"orient": "bottom", "values": [-20,-10,10,20,30,40,60,70,80,90,110,120,130,140,160,170,180,190,210,220,230,240,260,270,280,290], "labels": false, "domain": false, "grid": false, "ticks": true, "tickSize": -19, "tickWidth": 2.5, "tickColor": "black", "title": null}},
 "y": {"field": "s5", "type": "quantitative", "scale": {"type": "log", "domain": [242,138500000], "nice": false},
  "axis": {"orient": "left", "values": [300,400,500,600,700,800,900,2000,3000,4000,5000,6000,7000,8000,9000,20000,30000,40000,50000,60000,70000,80000,90000,200000,300000,400000,500000,600000,700000,800000,900000,2000000,3000000,4000000,5000000,6000000,7000000,8000000,9000000,20000000,30000000,40000000,50000000,60000000,70000000,80000000,90000000], "labels": false, "domain": false, "grid": false, "ticks": true, "tickSize": -20, "tickWidth": 2.5, "tickColor": "black", "title": null}}
}
},
{
"data": {"values": [{}]},
"mark": {"type": "text", "text": "sPHENIX", "font": "Liberation Sans", "fontSize": 47, "fontWeight": "bold", "fontStyle": "italic", "align": "left", "baseline": "alphabetic", "color": "black"},
"encoding": {
 "x": {"datum": -29.6, "type": "quantitative", "scale": {"domain": [-30,300], "nice": false, "zero": false},
  "axis": {"orient": "top", "values": [0,50,100,150,200,250,300], "labels": false, "domain": false, "grid": false, "ticks": true, "tickSize": -38, "tickWidth": 2.5, "tickColor": "black", "title": null}},
 "y": {"datum": 189000000, "type": "quantitative", "scale": {"type": "log", "domain": [242,138500000], "nice": false},
  "axis": {"orient": "right", "values": [1000,10000,100000,1000000,10000000,100000000], "labels": false, "domain": false, "grid": false, "ticks": true, "tickSize": -40, "tickWidth": 2.5, "tickColor": "black", "title": null}}
}
},
{
"data": {"values": [{}]},
"mark": {"type": "text", "text": "Internal", "font": "Liberation Sans", "fontSize": 47, "align": "left", "baseline": "alphabetic", "color": "black"},
"encoding": {
 "x": {"datum": 27.5, "type": "quantitative", "scale": {"domain": [-30,300], "nice": false, "zero": false},
  "axis": {"orient": "top", "values": [-20,-10,10,20,30,40,60,70,80,90,110,120,130,140,160,170,180,190,210,220,230,240,260,270,280,290], "labels": false, "domain": false, "grid": false, "ticks": true, "tickSize": -19, "tickWidth": 2.5, "tickColor": "black", "title": null}},
 "y": {"datum": 189000000, "type": "quantitative", "scale": {"type": "log", "domain": [242,138500000], "nice": false},
  "axis": {"orient": "right", "values": [300,400,500,600,700,800,900,2000,3000,4000,5000,6000,7000,8000,9000,20000,30000,40000,50000,60000,70000,80000,90000,200000,300000,400000,500000,600000,700000,800000,900000,2000000,3000000,4000000,5000000,6000000,7000000,8000000,9000000,20000000,30000000,40000000,50000000,60000000,70000000,80000000,90000000], "labels": false, "domain": false, "grid": false, "ticks": true, "tickSize": -20, "tickWidth": 2.5, "tickColor": "black", "title": null}}
}
},
{
"data": {"values": [{}]},
"mark": {"type": "text", "text": "pp √s = 200 GeV, Run 44060 (400k events)", "font": "Liberation Sans", "fontSize": 41.3, "align": "left", "baseline": "alphabetic", "color": "black"},
"encoding": {
 "x": {"datum": 90.9, "type": "quantitative", "scale": {"domain": [-30,300], "nice": false, "zero": false}, "axis": null},
 "y": {"datum": 189000000, "type": "quantitative", "scale": {"type": "log", "domain": [242,138500000], "nice": false}, "axis": null}
}
},
{
"data": {"values": [{}]},
"mark": {"type": "text", "text": "Outer HCal", "font": "Liberation Sans", "fontSize": 40, "fontWeight": "bold", "align": "left", "baseline": "alphabetic", "color": "black"},
"encoding": {
 "x": {"datum": 204.4, "type": "quantitative", "scale": {"domain": [-30,300], "nice": false, "zero": false}, "axis": null},
 "y": {"datum": 38600000, "type": "quantitative", "scale": {"type": "log", "domain": [242,138500000], "nice": false}, "axis": null}
}
}
]
}
